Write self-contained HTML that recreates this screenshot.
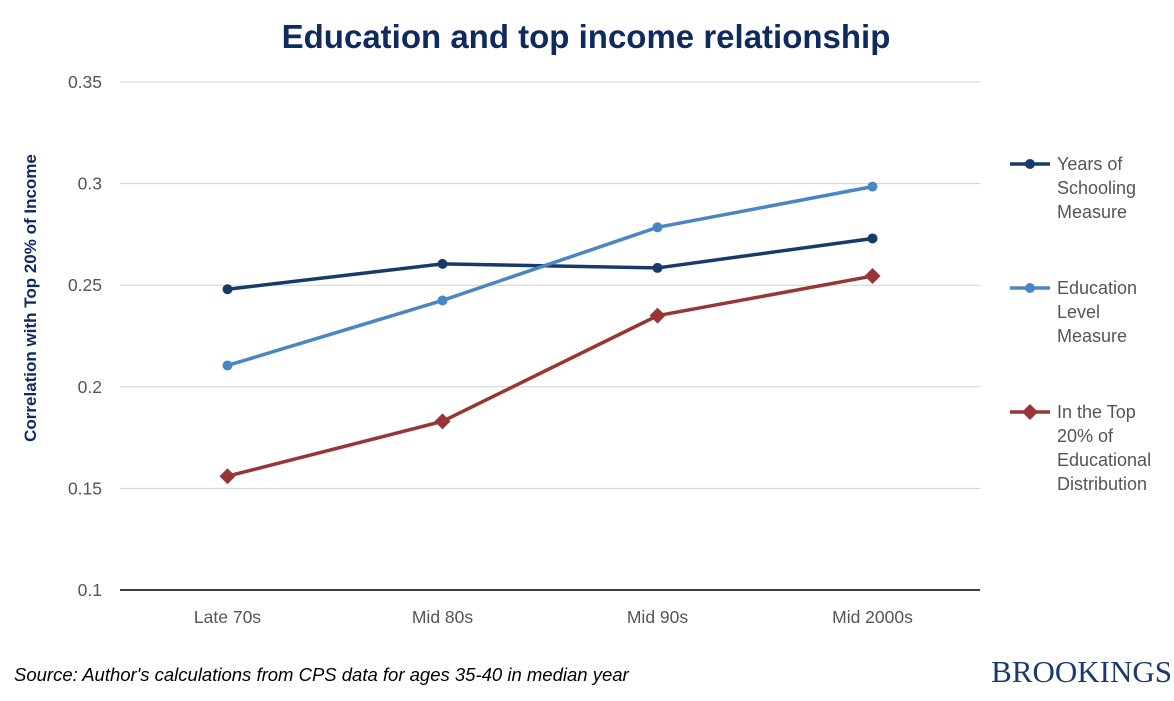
<!DOCTYPE html>
<html><head><meta charset="utf-8"><style>
body{margin:0;background:#fff;font-family:"Liberation Sans",Arial,sans-serif}
svg text{font-family:"Liberation Sans",Arial,sans-serif}
</style></head><body>
<svg width="1174" height="696" viewBox="0 0 1174 696">
<text x="586" y="48" text-anchor="middle" font-size="33" font-weight="bold" fill="#0f2a5f">Education and top income relationship</text>
<g id="grid"></g>
<g id="yticks"></g>
<g id="xticks"></g>
<text transform="translate(36,298) rotate(-90)" text-anchor="middle" font-size="17" font-weight="bold" fill="#0f2a5f">Correlation with Top 20% of Income</text>
<g id="series"></g>
<g id="legend"></g>
<text x="14" y="681" font-size="18.5" font-style="italic" fill="#000">Source: Author's calculations from CPS data for ages 35-40 in median year</text>
<text x="1172" y="682" text-anchor="end" font-size="31" fill="#1a3a6b" style="font-family:'Liberation Serif',serif">BROOKINGS</text>
</svg>
<script>
const categories=["Late 70s","Mid 80s","Mid 90s","Mid 2000s"];
const yTicks=[0.1,0.15,0.2,0.25,0.3,0.35];
const yearsSchooling=[0.248,0.2605,0.2585,0.273];
const educationLevel=[0.2105,0.2425,0.2785,0.2985];
const top20Education=[0.156,0.183,0.235,0.2545];
const NS="http://www.w3.org/2000/svg";
const L=120,R=980,T=82,B=590;
const yS=v=>B-(v-0.1)/0.25*(B-T);
const xS=i=>L+(i+0.5)*(R-L)/categories.length;
function mk(tag,attrs,parent){const e=document.createElementNS(NS,tag);for(const k in attrs)e.setAttribute(k,attrs[k]);document.getElementById(parent).appendChild(e);return e;}
yTicks.forEach(v=>{
 const l=mk('line',{x1:L,x2:R,y1:yS(v),y2:yS(v),stroke:v===0.1?'#000':'#d0d0d0','stroke-width':v===0.1?1.5:1},'grid');
 
 
 const t=mk('text',{x:102,y:yS(v)+6,'text-anchor':'end','font-size':17.5,fill:'#555'},'yticks');
 t.textContent=String(v);
 
 
});
categories.forEach((c,i)=>{
 const t=mk('text',{x:xS(i),y:623,'text-anchor':'middle','font-size':17.5,fill:'#555'},'xticks');
 t.textContent=c;
 
 
});
const series=[
 {d:yearsSchooling,c:'#173a6a',m:'circle',n:'years-of-schooling',lab:['Years of','Schooling','Measure'],ly:170},
 {d:educationLevel,c:'#4a86c4',m:'circle',n:'education-level',lab:['Education','Level','Measure'],ly:294},
 {d:top20Education,c:'#993535',m:'diamond',n:'top-20-education',lab:['In the Top','20% of','Educational','Distribution'],ly:418}
];
series.forEach(s=>{
 const p=mk('polyline',{points:s.d.map((v,i)=>xS(i)+','+yS(v)).join(' '),fill:'none',stroke:s.c,'stroke-width':3.5},'series');
 
 
 s.d.forEach((v,i)=>{
  let m;
  if(s.m==='circle')m=mk('circle',{cx:xS(i),cy:yS(v),r:5,fill:s.c},'series');
  else{const x=xS(i),y=yS(v);m=mk('polygon',{points:`${x},${y-8} ${x+8},${y} ${x},${y+8} ${x-8},${y}`,fill:s.c},'series');}
  
  
 });
 const ll=mk('line',{x1:1010,x2:1050,y1:s.ly-6,y2:s.ly-6,stroke:s.c,'stroke-width':3.5},'legend');
 
 
 let lm;
 if(s.m==='circle')lm=mk('circle',{cx:1030,cy:s.ly-6,r:5,fill:s.c},'legend');
 else lm=mk('polygon',{points:`1030,${s.ly-14} 1038,${s.ly-6} 1030,${s.ly+2} 1022,${s.ly-6}`,fill:s.c},'legend');
 
 
 s.lab.forEach((t,j)=>{
  const tx=mk('text',{x:1057,y:s.ly+j*24,'font-size':18,fill:'#555'},'legend');
  tx.textContent=t;
  
  
 });
});
</script>
</body></html>
